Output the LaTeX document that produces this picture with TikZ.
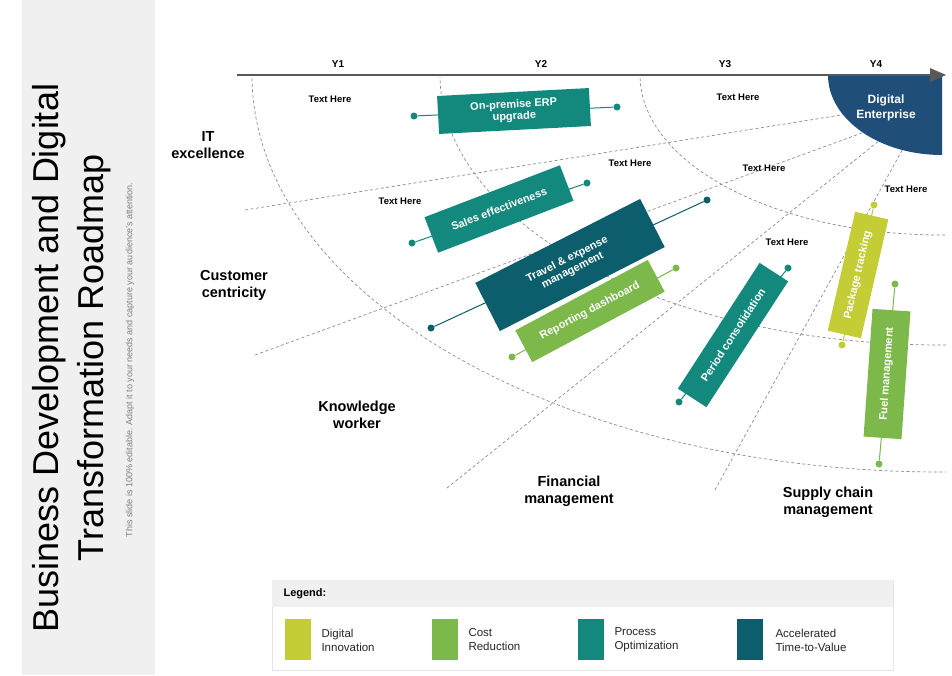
\documentclass[tikz,border=0pt]{standalone}
\usepackage{fontspec}
\setmainfont{Liberation Sans}
\begin{document}
\begin{tikzpicture}[x=1pt,y=-1pt,
 dsh/.style={draw=gray!90,line width=0.7pt,dash pattern=on 3pt off 2.5pt},
 bar/.style={fill=#1,minimum height=36pt,text=white,font=\bfseries\fontsize{11}{12}\selectfont,align=center,inner sep=2pt},
 pin/.style={draw=#1,line width=1pt},
 dot/.style={circle,fill=#1,inner sep=0pt,minimum size=7pt},
 th/.style={font=\bfseries\fontsize{9.5}{10}\selectfont},
 cat/.style={font=\bfseries\fontsize{14.5}{17}\selectfont,align=center},
 yl/.style={font=\bfseries\fontsize{10}{11}\selectfont},
 leg/.style={font=\fontsize{11.5}{14}\selectfont,align=left,anchor=west,text=black!85}]
\definecolor{cA}{HTML}{C5CD36}\definecolor{cB}{HTML}{7CB84A}\definecolor{cC}{HTML}{13897E}\definecolor{cD}{HTML}{0D5E6D}\definecolor{deb}{HTML}{1F4E79}
\useasboundingbox (0,0) rectangle (952,675);
\fill[white] (0,0) rectangle (952,675);
\fill[black!6] (22,0) rectangle (155,675);
\node[rotate=90,font=\fontsize{36}{45}\selectfont,align=center] (title) at (72,358) {Business Development and Digital\\Transformation Roadmap};
\node[rotate=90,font=\fontsize{9}{10}\selectfont,text=gray] (sub) at (130,360) {This slide is 100\% editable. Adapt it to your needs and capture your audience's attention.};
% arcs
\begin{scope}
\clip (232,77) rectangle (946,520);
\draw[dsh] (942,75) ellipse [x radius=690,y radius=397];
\draw[dsh] (942,75) ellipse [x radius=502,y radius=270];
\draw[dsh] (942,75) ellipse [x radius=302,y radius=160];
\end{scope}
\coordinate (r1a) at (245,210); \coordinate (r1b) at (860,112);
\coordinate (r2a) at (255,355); \coordinate (r2b) at (870,130);
\coordinate (r3a) at (447,488); \coordinate (r3b) at (880,140);
\coordinate (r4a) at (715,490); \coordinate (r4b) at (905,145);
\draw[dsh] (r1a)--(r1b); \draw[dsh] (r2a)--(r2b); \draw[dsh] (r3a)--(r3b); \draw[dsh] (r4a)--(r4b);
\fill[deb] (828,75) arc[start angle=180,end angle=270,x radius=114,y radius=-80] -- (942,75) -- cycle;
\node[text=white,font=\bfseries\fontsize{12}{15}\selectfont,align=center] (de) at (886,108) {Digital\\Enterprise};
% axis
\coordinate (ax0) at (237,75); \coordinate (ax1) at (946,75);
\draw[line width=2.5pt,draw=black!65] (ax0)--(930,75);
\fill[black!65] (930,68)--(946,75)--(930,82)--cycle;
\node[yl] (y1) at (338,64) {Y1}; \node[yl] (y2) at (541,64) {Y2};
\node[yl] (y3) at (725,64) {Y3}; \node[yl] (y4) at (876,64) {Y4};
% text here
\node[th] (t1) at (330,99) {Text Here}; \node[th] (t2) at (738,97) {Text Here};
\node[th] (t3) at (400,201) {Text Here}; \node[th] (t4) at (630,163) {Text Here};
\node[th] (t5) at (764,168) {Text Here}; \node[th] (t6) at (906,189) {Text Here};
\node[th] (t7) at (787,242) {Text Here};
% categories
\node[cat] (c1) at (208,145) {IT\\excellence};
\node[cat] (c2) at (234,285) {Customer\\centricity};
\node[cat] (c3) at (357,415) {Knowledge\\worker};
\node[cat] (c4) at (569,491) {Financial\\management};
\node[cat] (c5) at (828,502) {Supply chain\\management};
% bars
\newcommand\pb[9]{%
 \node[dot=#1] (#2a) at (#3) {}; \node[dot=#1] (#2b) at (#4) {};
 \draw[pin=#1] (#2a)--(#2b);
 \node[bar=#1,rotate=#6,minimum width=#7,minimum height=#8] (#2) at (#5) {#9};}
\pb{cC}{erp}{414,116}{617,107}{514,111}{3}{152pt}{38pt}{On-premise ERP\\upgrade}
\pb{cC}{sales}{412,243}{587,183}{499,209}{21}{145pt}{38pt}{Sales effectiveness}
\pb{cD}{travel}{431,328}{707,200}{570,265}{27}{185pt}{54pt}{Travel \& expense\\management}
\pb{cB}{rep}{512,357}{676,268}{590,311}{28}{150pt}{36pt}{Reporting dashboard}
\pb{cC}{per}{679,402}{788,268}{733,335}{57}{150pt}{34pt}{Period consolidation}
\pb{cA}{pkg}{874,205}{842,345}{858,275}{77}{122pt}{34pt}{Package tracking}
\pb{cB}{fuel}{895,284}{879,464}{887,374}{86}{128pt}{38pt}{Fuel management}
% legend
\draw[black!10,fill=white] (272,580) rectangle (893,670);
\fill[black!6] (272,580) rectangle (893,607);
\node[anchor=west,font=\bfseries\fontsize{11}{12}\selectfont] (lg) at (280,594) {Legend:};
\fill[cA] (285,619) rectangle (311,660); \node[leg] (l1) at (318,640) {Digital\\Innovation};
\fill[cB] (432,619) rectangle (458,660); \node[leg] (l2) at (465,640) {Cost\\Reduction};
\fill[cC] (578,619) rectangle (604,660); \node[leg] (l3) at (611,640) {Process\\Optimization};
\fill[cD] (737,619) rectangle (763,660); \node[leg] (l4) at (772,640) {Accelerated\\Time-to-Value};
\end{tikzpicture}
\end{document}
